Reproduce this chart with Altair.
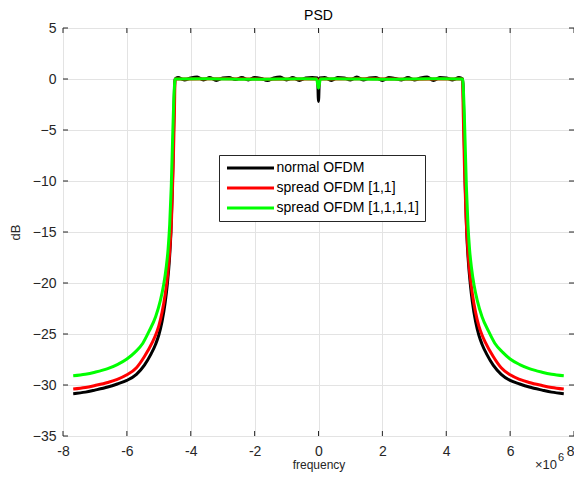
import altair as alt
import pandas as pd

# ---------------- data (frequency in MHz, PSD in dB) ----------------
series_names = ["normal OFDM", "spread OFDM [1,1]", "spread OFDM [1,1,1,1]"]
series_colors = ["#000000", "#ff0000", "#00ff00"]

# normal OFDM
black_left_f = [-7.68, -7.3, -7.0, -6.6, -6.3, -6.0, -5.7, -5.45, -5.25, -5.1, -5.0, -4.9, -4.8,
                -4.73, -4.67, -4.62, -4.575, -4.535, -4.51, -4.49]
black_left_db = [-30.85, -30.7, -30.5, -30.2, -29.9, -29.55, -28.95, -28.05, -27.0, -26.0, -25.1,
                 -23.8, -21.9, -20.0, -17.8, -15.0, -10.5, -4.5, -1.0, 0.0]
black_pass_f = [-4.4, -4.2, -4.0, -3.8, -3.6, -3.4, -3.2, -3.0, -2.8, -2.6, -2.4, -2.2, -2.0,
                -1.8, -1.6, -1.4, -1.2, -1.0, -0.8, -0.6, -0.4, -0.2, -0.03, 0.0, 0.03,
                0.2, 0.4, 0.6, 0.8, 1.0, 1.2, 1.4, 1.6, 1.8, 2.0, 2.2, 2.4, 2.6, 2.8, 3.0,
                3.2, 3.4, 3.6, 3.8, 4.0, 4.2, 4.4]
black_pass_db = [0.15, -0.1, 0.1, 0.2, -0.1, 0.15, -0.15, 0.1, 0.15, -0.05, 0.15, -0.1, 0.15,
                 0.05, -0.15, 0.1, 0.2, -0.1, 0.15, -0.15, 0.1, 0.15, 0.1, -2.2, 0.1,
                 0.15, -0.15, 0.15, 0.1, -0.1, 0.2, -0.1, 0.1, 0.15, -0.15, 0.15, 0.05, -0.1, 0.15, -0.1,
                 0.1, 0.2, -0.15, 0.15, 0.1, -0.1, 0.15]
black_right_f = [4.51, 4.53, 4.555, 4.595, 4.64, 4.69, 4.75, 4.82, 4.92, 5.02, 5.12, 5.27, 5.47,
                 5.72, 6.0, 6.3, 6.6, 7.0, 7.3, 7.68]
black_right_db = [0.0, -1.0, -4.5, -10.5, -15.0, -17.8, -20.0, -21.9, -23.8, -25.1, -26.0, -27.0,
                  -28.05, -28.95, -29.55, -29.9, -30.2, -30.5, -30.7, -30.85]

# spread OFDM [1,1]
red_left_f = [-7.68, -7.3, -7.0, -6.6, -6.3, -6.0, -5.7, -5.45, -5.2, -5.1, -5.0, -4.9, -4.8,
              -4.72, -4.66, -4.6, -4.55, -4.51, -4.49]
red_left_db = [-30.4, -30.25, -30.05, -29.75, -29.45, -29.0, -28.3, -27.2, -25.8, -25.1, -24.2,
               -22.9, -21.1, -19.1, -16.9, -13.6, -8.6, -3.0, 0.0]
red_pass_f = [-3.0, -1.5, -0.05, 0.0, 0.05, 1.5, 3.0]
red_pass_db = [0.02, -0.02, 0.0, -0.8, 0.0, 0.02, -0.02]
red_right_f = [4.51, 4.53, 4.57, 4.62, 4.68, 4.74, 4.82, 4.92, 5.02, 5.12, 5.22, 5.47, 5.72, 6.0,
               6.3, 6.6, 7.0, 7.3, 7.68]
red_right_db = [0.0, -3.0, -8.6, -13.6, -16.9, -19.1, -21.1, -22.9, -24.2, -25.1, -25.8, -27.2,
                -28.3, -29.0, -29.45, -29.75, -30.05, -30.25, -30.4]

# spread OFDM [1,1,1,1]
green_left_f = [-7.68, -7.3, -7.0, -6.6, -6.3, -6.0, -5.75, -5.5, -5.3, -5.1, -4.95, -4.85, -4.77,
                -4.71, -4.66, -4.61, -4.56, -4.52, -4.49]
green_left_db = [-29.1, -28.95, -28.75, -28.4, -28.0, -27.45, -26.8, -25.9, -24.7, -23.3, -21.7,
                 -20.2, -18.5, -16.7, -14.3, -10.5, -5.0, -1.3, 0.0]
green_pass_f = [-3.5, -2.0, -0.5, -0.06, 0.0, 0.06, 0.5, 2.0, 3.5]
green_pass_db = [0.03, -0.03, 0.02, 0.0, -0.9, 0.0, 0.02, -0.03, 0.03]
green_right_f = [4.51, 4.54, 4.58, 4.63, 4.68, 4.73, 4.79, 4.87, 4.97, 5.12, 5.32, 5.52, 5.77, 6.0,
                 6.3, 6.6, 7.0, 7.3, 7.68]
green_right_db = [0.0, -1.3, -5.0, -10.5, -14.3, -16.7, -18.5, -20.2, -21.7, -23.3, -24.7, -25.9,
                  -26.8, -27.45, -28.0, -28.4, -28.75, -28.95, -29.1]

x_tick_values = [-8, -6, -4, -2, 0, 2, 4, 6, 8]          # x 10^6
y_tick_values = [-35, -30, -25, -20, -15, -10, -5, 0, 5]


def frame(name, parts):
    f, d = [], []
    for pf, pd_ in parts:
        f += pf
        d += pd_
    return pd.DataFrame({"frequency": [v * 1e6 for v in f], "dB": d, "series": name})


df_black = frame(series_names[0], [(black_left_f, black_left_db), (black_pass_f, black_pass_db),
                                   (black_right_f, black_right_db)])
df_red = frame(series_names[1], [(red_left_f, red_left_db), (red_pass_f, red_pass_db),
                                 (red_right_f, red_right_db)])
df_green = frame(series_names[2], [(green_left_f, green_left_db), (green_pass_f, green_pass_db),
                                   (green_right_f, green_right_db)])

xt = pd.DataFrame({"frequency": [v * 1e6 for v in x_tick_values]})
yt = pd.DataFrame({"dB": y_tick_values})

W, H = 511, 408
FONT = "Liberation Sans"
AX = "#262626"
GRID = "#e3e3e3"

xscale = alt.Scale(domain=[-8e6, 8e6], nice=False, zero=False)
yscale = alt.Scale(domain=[-35, 5], nice=False, zero=False)
cscale = alt.Scale(domain=series_names, range=series_colors)

xaxis = alt.Axis(values=[v * 1e6 for v in x_tick_values], labelExpr="datum.value / 1000000",
                 title="frequency", grid=True, gridColor=GRID, tickSize=0, domain=False,
                 labelPadding=8, titlePadding=1, labelFontSize=14, titleFontSize=12,
                 labelColor=AX, titleColor=AX, labelFont=FONT, titleFont=FONT,
                 titleFontWeight="normal", labelFlush=False,
                 labelAlign={"condition": {"test": "datum.value == 8000000", "value": "right"},
                             "value": "center"})
yaxis = alt.Axis(values=y_tick_values, title="dB", grid=True, gridColor=GRID, tickSize=0,
                 domain=False, labelPadding=7, titlePadding=10, labelFontSize=14, titleFontSize=13,
                 labelColor=AX, titleColor=AX, labelFont=FONT, titleFont=FONT,
                 titleFontWeight="normal", labelFlush=False)

legend = alt.Legend(orient="none", legendX=156, legendY=127, title=None,
                    symbolType="M-4.7,0H4.7", symbolSize=100, symbolStrokeWidth=3,
                    symbolOffset=18.5, labelOffset=19,
                    strokeColor=AX, fillColor="white", padding=6, rowPadding=6,
                    labelFontSize=14, labelFont=FONT, labelColor="#000000",
                    cornerRadius=0)

X = alt.X("frequency:Q", scale=xscale, axis=xaxis)
Y = alt.Y("dB:Q", scale=yscale, axis=yaxis)


def line_layer(df):
    return alt.Chart(df).mark_line(strokeWidth=3, clip=True, interpolate="monotone").encode(
        x=X, y=Y, color=alt.Color("series:N", scale=cscale, legend=legend))


l_black = line_layer(df_black)
l_red = line_layer(df_red)
l_green = line_layer(df_green)

tick_style = dict(color=AX, strokeWidth=1)
t_bottom = alt.Chart(xt).mark_rule(**tick_style).encode(x=X, y=alt.value(H), y2=alt.value(H - 5))
t_top = alt.Chart(xt).mark_rule(**tick_style).encode(x=X, y=alt.value(0), y2=alt.value(5))
t_left = alt.Chart(yt).mark_rule(**tick_style).encode(y=Y, x=alt.value(0), x2=alt.value(5))
t_right = alt.Chart(yt).mark_rule(**tick_style).encode(y=Y, x=alt.value(W), x2=alt.value(W - 5))

exp_base = alt.Chart(pd.DataFrame({"t": ["\u00d710"]})).mark_text(
    font=FONT, fontSize=13, color=AX, align="right", baseline="middle").encode(
    text="t:N", x=alt.value(W - 17), y=alt.value(437))
exp_pow = alt.Chart(pd.DataFrame({"t": ["6"]})).mark_text(
    font=FONT, fontSize=11, color=AX, align="left", baseline="middle").encode(
    text="t:N", x=alt.value(W - 16), y=alt.value(430))

chart = alt.layer(l_black, l_red, l_green, t_bottom, t_top, t_left, t_right, exp_base, exp_pow).properties(
    width=W, height=H,
    title=alt.TitleParams("PSD", fontSize=14, fontWeight="normal", font=FONT, color="#000000",
                          anchor="middle", offset=-2),
    autosize=alt.AutoSizeParams(type="none"),
    padding={"left": 55, "top": 20, "right": 0, "bottom": 37},
).configure_view(stroke=AX, strokeWidth=1).configure(background="white")

chart.save("out.html", embed_options={"renderer": "svg", "actions": False})
